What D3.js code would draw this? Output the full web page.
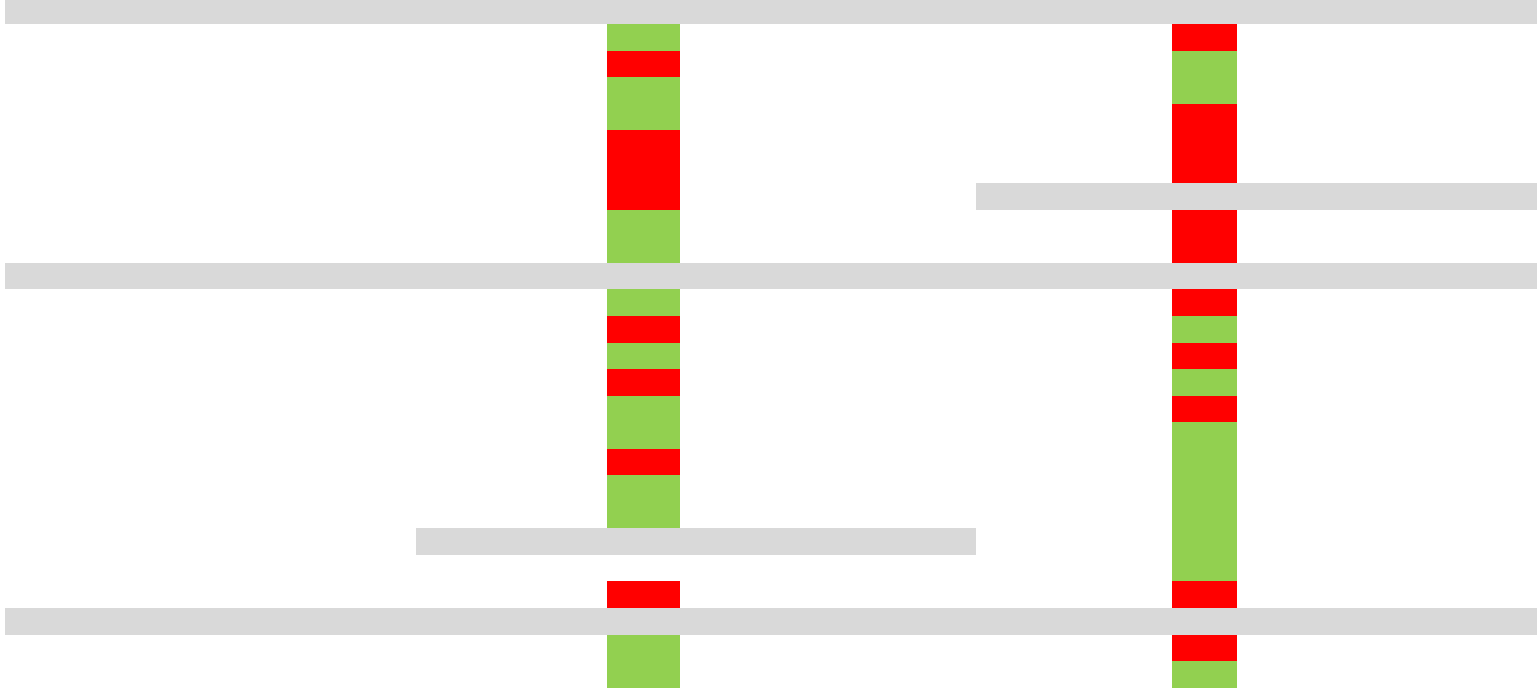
<!DOCTYPE html>
<html>
<head>
<meta charset="utf-8">
<script src="https://cdn.jsdelivr.net/npm/d3@7"></script>
<style>
  html, body { margin: 0; padding: 0; background: #ffffff; overflow: hidden; }
</style>
</head>
<body>
<div id="chart-area"></div>
<script>
// row status per column: G = green, R = red, "" = nothing
const rowIds = d3.range(26);
const col1Status = ["", "G", "R", "G", "G", "R", "R", "R", "G", "G", "", "G", "R", "G", "R", "G", "G", "R", "G", "G", "", "", "R", "", "G", "G"];
const col2Status = ["", "R", "G", "G", "R", "R", "R", "R", "R", "R", "", "R", "G", "R", "G", "R", "G", "G", "G", "G", "G", "G", "R", "", "R", "G"];

// column extents in position units
const columnNames = ["col1", "col2"];
const columnStart = [602, 1167];
const columnEnd = [675, 1232];

// grey separator bars: row, start, end
const barRows = [0, 7, 10, 20, 23];
const barStart = [0, 971, 0, 411, 0];
const barEnd = [1532, 1532, 1532, 971, 1532];

const statusColor = { G: "#92d050", R: "#ff0000" };
const barColor = "#d9d9d9";

function renderChart() {
    const svgWidth = 1538;
    const svgHeight = 688;

    const svg = d3.select("#chart-area")
        .append("svg")
        .attr("width", svgWidth)
        .attr("height", svgHeight)
        .style("display", "block");

    const xScale = d3.scaleLinear()
        .domain([0, 1532])
        .range([5, 1537]);

    const yScale = d3.scaleBand()
        .domain(rowIds)
        .range([-2.55, 687.6])
        .padding(0);

    const cells = [];
    [col1Status, col2Status].forEach((statusList, ci) => {
        statusList.forEach((s, ri) => {
            if (s) cells.push({ col: columnNames[ci], row: rowIds[ri], status: s, x0: columnStart[ci], x1: columnEnd[ci] });
        });
    });

    svg.append("g")
        .attr("class", "cells")
        .selectAll("rect")
        .data(cells)
        .join("rect")
        .attr("x", d => xScale(d.x0))
        .attr("y", d => yScale(d.row))
        .attr("width", d => xScale(d.x1) - xScale(d.x0))
        .attr("height", yScale.bandwidth())
        .attr("fill", d => statusColor[d.status])
        .attr("shape-rendering", "crispEdges");

    const bars = barRows.map((r, i) => ({ row: r, x0: barStart[i], x1: barEnd[i] }));

    svg.append("g")
        .attr("class", "bars")
        .selectAll("rect")
        .data(bars)
        .join("rect")
        .attr("x", d => xScale(d.x0))
        .attr("y", d => yScale(d.row))
        .attr("width", d => xScale(d.x1) - xScale(d.x0))
        .attr("height", yScale.bandwidth())
        .attr("fill", barColor)
        .attr("shape-rendering", "crispEdges");
}

renderChart();
</script>
</body>
</html>
